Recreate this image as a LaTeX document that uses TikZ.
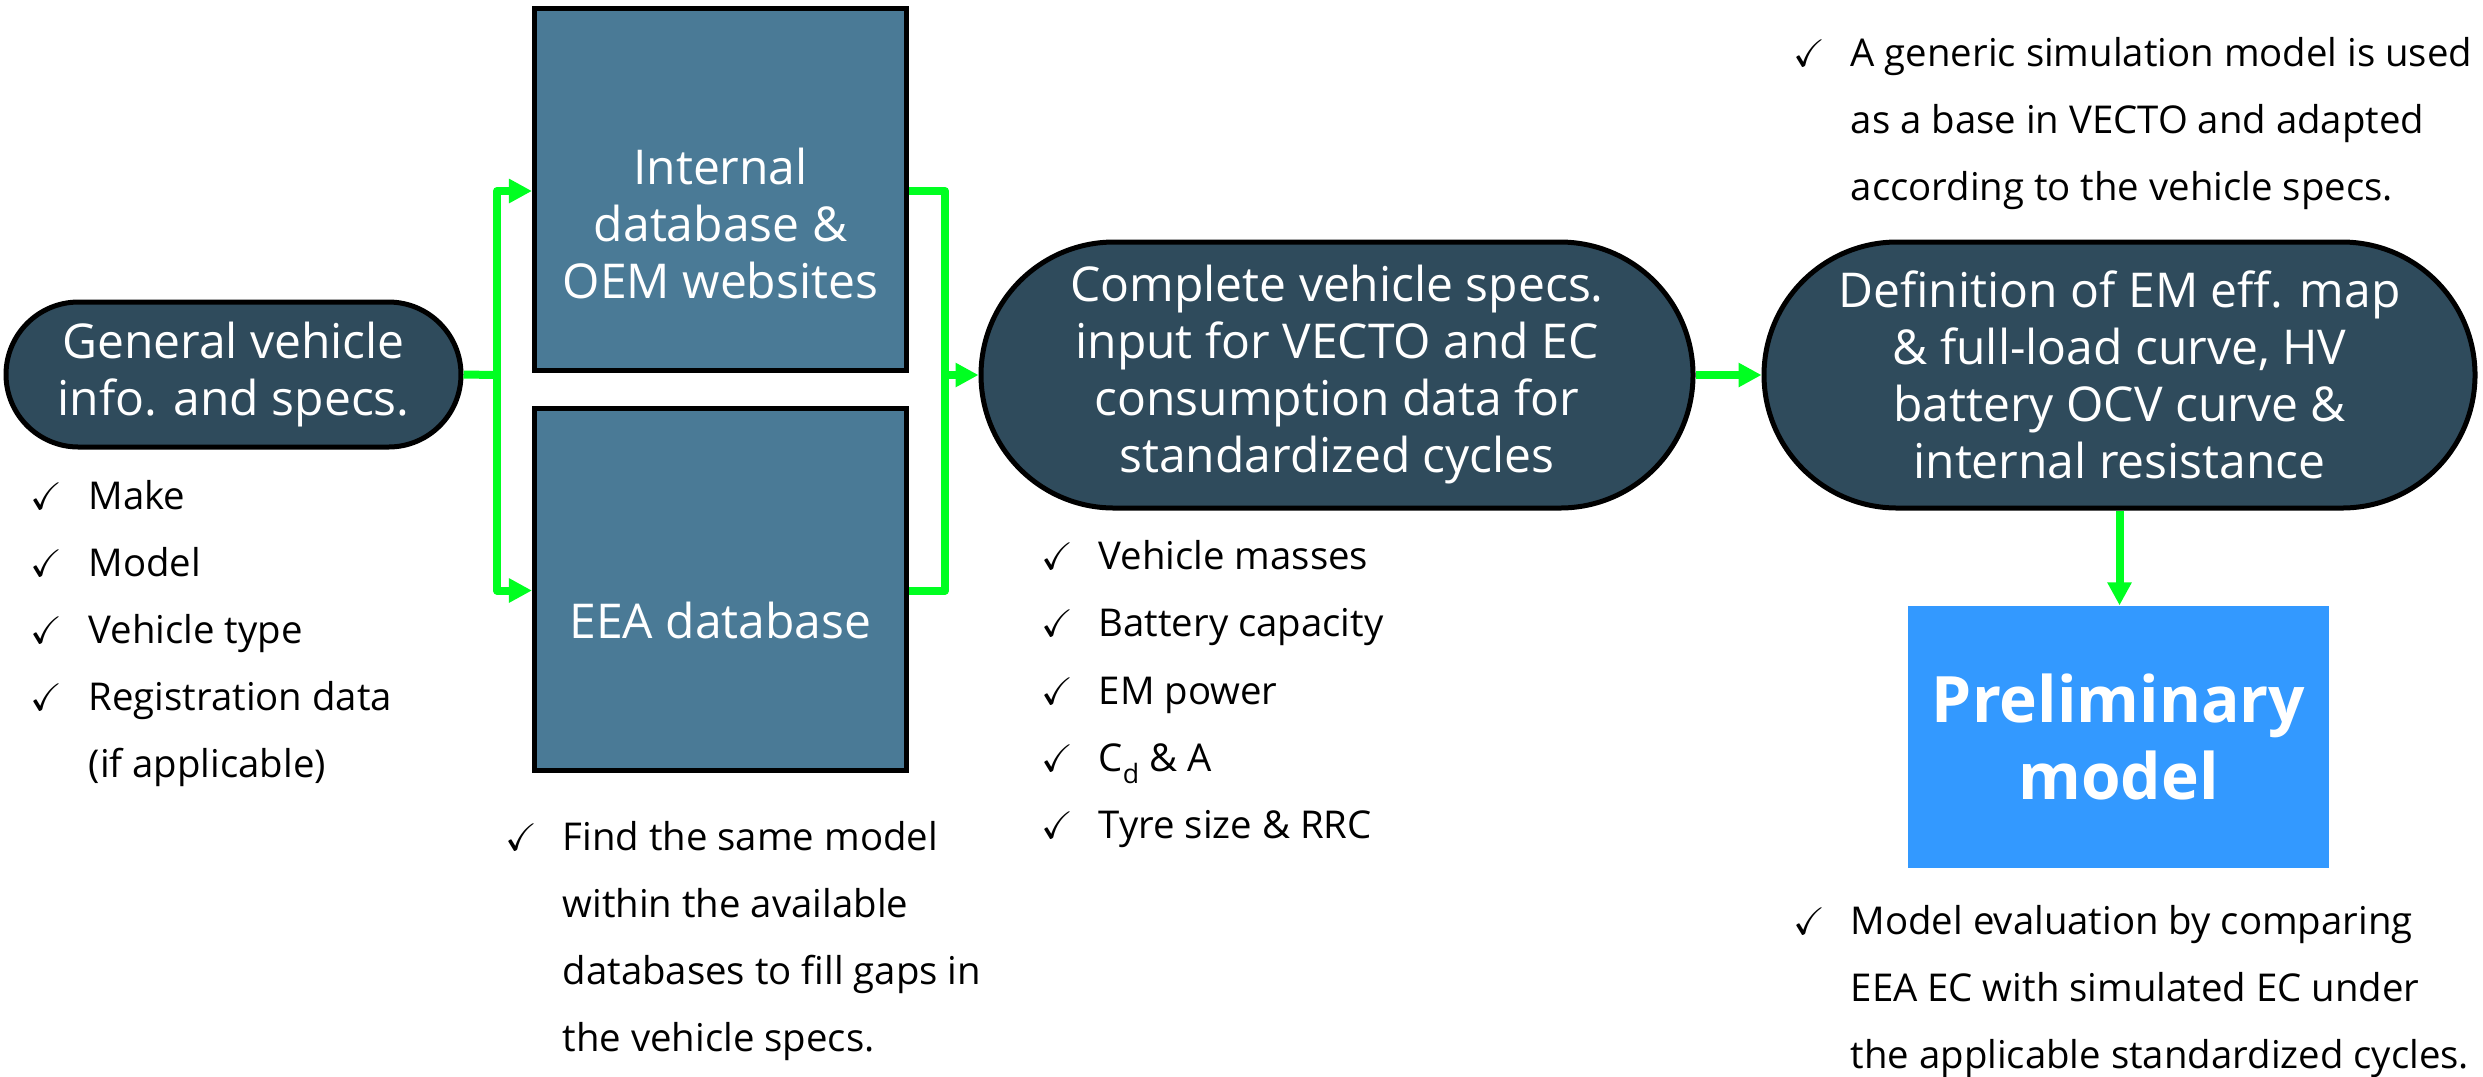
\documentclass[tikz,border=0pt]{standalone}
\usepackage{amssymb}
\usepackage{fontspec}
\setmainfont{Open Sans}
\usetikzlibrary{arrows.meta,shapes.geometric,shapes.misc}
\definecolor{darkbox}{HTML}{2F4B5C}
\definecolor{cylblue}{HTML}{4A7A96}
\definecolor{linkgreen}{HTML}{00FF21}
\definecolor{prelblue}{HTML}{3399FF}
\tikzset{
  stadium/.style={rounded rectangle,draw=black,line width=1.5pt,fill=darkbox,text=white,inner sep=0pt,align=center,
    font=\fontsize{14.4}{17.1}\selectfont},
  dbase/.style={cylinder,shape border rotate=90,aspect=0.645,draw=black,line width=1.5pt,fill=cylblue,inner sep=0pt,
    minimum width=111.6pt,minimum height=108.5pt},
  dbtext/.style={text=white,align=center,inner sep=0pt,font=\fontsize{14.4}{17.1}\selectfont},
  link/.style={draw=linkgreen,line width=2.4pt,line join=round,-{Triangle[length=6.9pt,width=6.9pt]}},
  linkplain/.style={draw=linkgreen,line width=2.4pt,line join=round},
  item/.style={anchor=base west,inner sep=0pt,font=\fontsize{11.5}{20.1}\selectfont},
  tick/.style={anchor=base west,inner sep=0pt,font=\fontsize{11.5}{20.1}\selectfont},
}
\newcommand{\tk}{$\checkmark$}
\begin{document}
\begin{tikzpicture}[x=0.3pt,y=-0.3pt]
\useasboundingbox (0,0) rectangle (2483,1076);
% boxes
\node[stadium,minimum width=136.5pt,minimum height=43.5pt] (gen) at (233.5,374.5) {General vehicle\\info. and specs.};
\node[dbase] (db1) at (720.5,191) {};
\node[dbtext] (db1t) at (720.5,223) {Internal\\database \&\\OEM websites};
\node[dbase] (db2) at (720.5,590.5) {};
\node[dbtext] (db2t) at (720.5,620) {EEA database};
\node[stadium,minimum width=213.6pt,minimum height=79.8pt] (spec) at (1337,375) {Complete vehicle specs.\\input for VECTO and EC\\consumption data for\\standardized cycles};
\node[stadium,minimum width=213.3pt,minimum height=79.8pt] (defn) at (2119.5,375) {Definition of EM eff. map\\\& full-load curve, HV\\battery OCV curve \&\\internal resistance};
\node[fill=prelblue,text=white,inner sep=0pt,minimum width=126.3pt,minimum height=78.6pt,align=center,
  font=\fontsize{19.2}{23.1}\selectfont\bfseries] (prel) at (2118.5,737) {Preliminary\\model};
% connectors
\coordinate (jl) at (497,375);
\coordinate (jr) at (945,375);
\draw[linkplain] (gen.east) -- (jl);
\draw[link] (jl) |- (db1.west);
\draw[link] (jl) |- (db2.west);
\draw[linkplain] (db1.east) -| (jr);
\draw[linkplain] (db2.east) -| (jr);
\draw[link] (jr) -- (spec.west);
\draw[link] (spec.east) -- (defn.west);
\draw[link] (defn.south) -- (defn.south |- prel.north);
% list 1
\node[tick] (t1a) at (30,509) {\tk}; \node[item] (i1a) at (88,509) {Make};
\node[tick] (t1b) at (30,576) {\tk}; \node[item] (i1b) at (88,576) {Model};
\node[tick] (t1c) at (30,643) {\tk}; \node[item] (i1c) at (88,643) {Vehicle type};
\node[tick] (t1d) at (30,710) {\tk}; \node[item] (i1d) at (88,710) {Registration data};
\node[item] (i1e) at (88,777) {(if applicable)};
% list 2
\node[tick] (t2a) at (505,850) {\tk}; \node[item] (i2a) at (562,850) {Find the same model};
\node[item] (i2b) at (562,917) {within the available};
\node[item] (i2c) at (562,984) {databases to fill gaps in};
\node[item] (i2d) at (562,1051) {the vehicle specs.};
% list 3
\node[tick] (t3a) at (1041,569) {\tk}; \node[item] (i3a) at (1098,569) {Vehicle masses};
\node[tick] (t3b) at (1041,636.5) {\tk}; \node[item] (i3b) at (1098,636.5) {Battery capacity};
\node[tick] (t3c) at (1041,704) {\tk}; \node[item] (i3c) at (1098,704) {EM power};
\node[tick] (t3d) at (1041,771) {\tk}; \node[item] (i3d) at (1098,771) {C\raisebox{-0.6ex}{\fontsize{8}{9}\selectfont d} \& A};
\node[tick] (t3e) at (1041,838) {\tk}; \node[item] (i3e) at (1098,838) {Tyre size \& RRC};
% list 4
\node[tick] (t4a) at (1793,66) {\tk}; \node[item] (i4a) at (1850,66) {A generic simulation model is used};
\node[item] (i4b) at (1850,133) {as a base in VECTO and adapted};
\node[item] (i4c) at (1850,200) {according to the vehicle specs.};
% list 5
\node[tick] (t5a) at (1793,934) {\tk}; \node[item] (i5a) at (1850,934) {Model evaluation by comparing};
\node[item] (i5b) at (1850,1001) {EEA EC with simulated EC under};
\node[item] (i5c) at (1850,1068) {the applicable standardized cycles.};
\end{tikzpicture}
\end{document}
